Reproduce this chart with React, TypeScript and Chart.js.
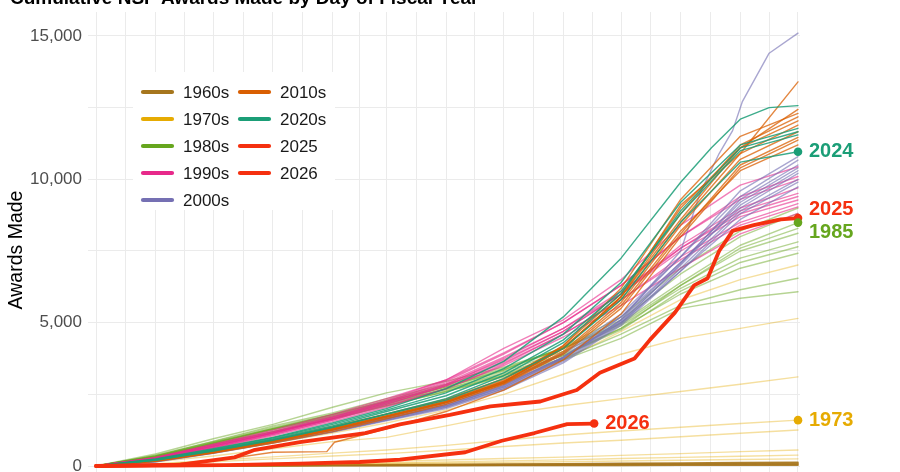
import React, { useEffect, useRef } from 'react';
import { Chart, registerables } from 'chart.js';

Chart.register(...registerables);

const FONT = '"Liberation Sans", Arial, Helvetica, sans-serif';

// ---------- sampling days (day of fiscal year, Oct 1 = 0) ----------
const monthDays = [0, 31, 61, 92, 123, 151, 182, 212, 243, 273, 304, 335, 365];
const days2009 = [0, 31, 61, 92, 123, 151, 182, 212, 243, 273, 304, 314, 324, 331, 336, 350, 365];
const days2014 = [0, 31, 61, 92, 120, 124, 151, 182, 212, 243, 273, 304, 335, 365];
const days2020 = [0, 31, 61, 92, 123, 151, 182, 212, 243, 273, 304, 320, 335, 350, 365];
const days2025 = [0, 44, 72, 82, 106, 140, 158, 184, 205, 231, 238, 250, 262, 280, 288, 301, 311, 318, 324, 331, 342, 356, 365];
const days2026 = [0, 68, 106, 137, 158, 192, 211, 228, 245, 259];

// ---------- cumulative awards per fiscal year ----------
const years1960s = [1966, 1967, 1968, 1969];
const awards1960s = [
  [0, 2, 4, 6, 8, 10, 12, 15, 18, 21, 24, 27, 30],
  [0, 4, 8, 13, 18, 22, 27, 32, 38, 44, 50, 55, 60],
  [0, 6, 12, 19, 26, 33, 41, 49, 57, 65, 73, 82, 90],
  [0, 8, 17, 27, 37, 47, 58, 69, 80, 92, 104, 117, 130],
];

const years1970s = [1970, 1971, 1972, 1973, 1974, 1975, 1976, 1977];
const awards1970s = [
  [0, 10, 25, 45, 65, 85, 105, 125, 150, 175, 200, 225, 250],
  [0, 15, 35, 60, 90, 115, 145, 180, 215, 260, 300, 340, 380],
  [0, 20, 50, 90, 130, 170, 210, 260, 310, 370, 430, 500, 560],
  [0, 80, 200, 320, 450, 560, 720, 900, 1080, 1220, 1350, 1480, 1600],
  [0, 60, 150, 250, 350, 430, 550, 680, 800, 900, 1020, 1140, 1255],
  [0, 150, 350, 600, 850, 1000, 1400, 1800, 2100, 2350, 2600, 2850, 3110],
  [0, 200, 480, 800, 1150, 1500, 1950, 2500, 3200, 3900, 4450, 4800, 5150],
  [0, 250, 600, 1000, 1400, 1800, 2300, 2900, 3700, 4700, 5800, 6500, 7010],
];

const years1980s = [1980, 1981, 1982, 1983, 1984, 1985, 1986, 1987, 1988, 1989];
const awards1980s = [
  [0, 300, 750, 1200, 1650, 2100, 2600, 3100, 3700, 4450, 5500, 5850, 6080],
  [0, 320, 780, 1250, 1700, 2150, 2650, 3150, 3750, 4600, 5600, 6150, 6550],
  [0, 350, 820, 1300, 1750, 2200, 2700, 3250, 3900, 4800, 6000, 6900, 7420],
  [0, 330, 800, 1280, 1720, 2180, 2680, 3200, 3850, 4750, 6100, 7100, 7650],
  [0, 380, 850, 1350, 1800, 2250, 2750, 3300, 4000, 4900, 6200, 7250, 7820],
  [0, 360, 870, 1400, 1850, 2350, 2850, 3400, 4100, 5000, 6400, 7700, 8490],
  [0, 420, 950, 1450, 2050, 2550, 2950, 3450, 4100, 4950, 6300, 7500, 8120],
  [0, 300, 760, 1200, 1650, 2100, 2600, 3150, 3850, 4800, 6300, 7600, 8290],
  [0, 340, 820, 1300, 1800, 2300, 2800, 3350, 4100, 5100, 6700, 8000, 8810],
  [0, 330, 800, 1300, 1780, 2250, 2750, 3350, 4150, 5200, 6900, 8200, 9000],
];

const years1990s = [1990, 1991, 1992, 1993, 1994, 1995, 1996, 1997, 1998, 1999];
const awards1990s = [
  [0, 250, 650, 1100, 1600, 2100, 2700, 3500, 4500, 5600, 6900, 8100, 8810],
  [0, 280, 700, 1150, 1650, 2150, 2800, 3600, 4600, 5800, 7200, 8400, 9040],
  [0, 300, 750, 1200, 1700, 2250, 2900, 3800, 4800, 6000, 7500, 8700, 9280],
  [0, 260, 680, 1150, 1650, 2200, 2850, 3700, 4700, 6000, 7600, 8900, 9510],
  [0, 300, 760, 1250, 1800, 2350, 3000, 3950, 5000, 6300, 8000, 9300, 9980],
  [0, 280, 720, 1200, 1750, 2300, 3000, 4100, 5100, 6500, 8400, 9800, 10440],
  [0, 240, 640, 1100, 1600, 2150, 2800, 3650, 4700, 6000, 7700, 9000, 9700],
  [0, 270, 700, 1150, 1650, 2200, 2850, 3750, 4800, 6100, 7600, 8800, 9400],
  [0, 230, 620, 1050, 1550, 2050, 2700, 3550, 4600, 5800, 7300, 8500, 9150],
  [0, 260, 680, 1150, 1700, 2250, 2950, 3900, 5000, 6300, 8000, 9400, 10100],
];

const years2000s = [2000, 2001, 2002, 2003, 2004, 2005, 2006, 2007, 2008, 2009];
const awards2000s = [
  [0, 200, 530, 900, 1300, 1700, 2150, 2800, 3800, 5000, 6800, 8600, 9740],
  [0, 180, 500, 860, 1250, 1650, 2100, 2750, 3750, 5100, 7100, 9000, 10210],
  [0, 200, 540, 920, 1330, 1750, 2250, 2950, 3950, 5300, 7300, 9400, 10670],
  [0, 170, 480, 850, 1250, 1650, 2100, 2800, 3800, 5200, 7300, 9600, 10790],
  [0, 190, 510, 880, 1290, 1700, 2200, 2900, 3900, 5200, 7100, 9200, 10400],
  [0, 160, 460, 820, 1200, 1600, 2050, 2700, 3650, 4950, 6900, 8900, 10000],
  [0, 150, 440, 800, 1180, 1580, 2000, 2650, 3600, 4900, 6800, 8800, 9900],
  [0, 170, 480, 850, 1250, 1650, 2100, 2750, 3750, 5050, 7000, 9100, 10300],
  [0, 150, 450, 820, 1200, 1600, 2050, 2700, 3700, 5000, 7050, 9300, 10500],
  [0, 160, 470, 850, 1250, 1650, 2150, 2850, 3800, 5100, 7500, 9500, 10900, 11700, 12700, 14400, 15100],
];

const years2010s = [2010, 2011, 2012, 2013, 2014, 2015, 2016, 2017, 2018, 2019];
const awards2010s = [
  [0, 200, 520, 880, 1300, 1750, 2250, 2950, 4100, 5900, 8600, 11100, 12440],
  [0, 180, 470, 840, 1250, 1700, 2200, 2900, 4200, 6200, 9300, 11500, 12300],
  [0, 190, 500, 860, 1280, 1730, 2230, 2930, 4100, 5900, 8800, 11200, 12180],
  [0, 160, 450, 800, 1200, 1650, 2150, 2850, 3900, 5500, 8100, 10500, 11460],
  [0, 40, 180, 480, 500, 830, 1300, 1900, 2650, 3700, 5300, 8000, 10400, 11370],
  [0, 200, 530, 900, 1340, 1800, 2300, 3000, 4200, 6000, 9000, 11100, 12040],
  [0, 210, 540, 920, 1360, 1820, 2330, 3050, 4150, 5800, 8500, 10900, 11890],
  [0, 190, 500, 870, 1300, 1750, 2250, 2950, 4100, 5900, 9100, 10900, 13400],
  [0, 170, 470, 840, 1260, 1720, 2220, 2900, 4000, 5700, 8400, 10700, 11660],
  [0, 180, 480, 850, 1270, 1720, 2200, 2880, 3950, 5600, 8200, 10300, 11200],
];

const years2020s = [2020, 2021, 2022, 2023, 2024];
const awards2020s = [
  [0, 250, 600, 1000, 1500, 2000, 2700, 3650, 5200, 7250, 9900, 11100, 12100, 12500, 12570],
  [0, 240, 580, 980, 1450, 1950, 2550, 3400, 4600, 6400, 9200, 11200, 11780],
  [0, 220, 560, 950, 1400, 1900, 2450, 3250, 4400, 6100, 8800, 11000, 11550],
  [0, 200, 520, 900, 1350, 1820, 2350, 3150, 4300, 6000, 8900, 11100, 11660],
  [0, 210, 530, 910, 1350, 1800, 2300, 3050, 4100, 5800, 8500, 10600, 10960],
];

const awards2025 = [0, 50, 300, 550, 830, 1150, 1450, 1780, 2080, 2250, 2400, 2650, 3250, 3750, 4400, 5350, 6300, 6550, 7500, 8200, 8400, 8600, 8650];
const awards2026 = [0, 30, 80, 140, 220, 480, 880, 1150, 1460, 1480];

// ---------- axes ----------
const xGridDays = [0, 15.5, 31, 46, 61, 76.5, 92, 107.5, 123, 137, 151, 166.5, 182, 197, 212, 227.5, 243, 258, 273, 288.5, 304, 319.5, 335, 350, 365];
const yTickValues = [0, 2500, 5000, 7500, 10000, 12500, 15000];
const yLabelStep = 5000;

// ---------- legend & labels ----------
const legendLabels = ['1960s', '1970s', '1980s', '1990s', '2000s', '2010s', '2020s', '2025', '2026'];
const decadeColors = ['#a6761d', '#e6ab02', '#66a61e', '#e7298a', '#7570b3', '#d95f02', '#1b9e77'];
const decadeAlphas = [0.9, 0.38, 0.48, 0.6, 0.62, 0.75, 0.85];
const currentColor = '#f5300f';
const legendColors = [...decadeColors, currentColor, currentColor];
const labeledYears = ['2024', '2025', '1985', '1973', '2026'];
const labeledOffsets = [0, -9, 10, 0, 0];

const TITLE = 'Cumulative NSF Awards Made by Day of Fiscal Year';

function rgba(hex: string, a: number) {
  const n = parseInt(hex.slice(1), 16);
  return `rgba(${n >> 16},${(n >> 8) & 255},${n & 255},${a})`;
}

function daysFor(year: number) {
  if (year === 2009) return days2009;
  if (year === 2014) return days2014;
  if (year === 2020) return days2020;
  return monthDays;
}

function makeSeries(label: string, days: number[], values: number[], color: string, width: number) {
  return {
    label,
    data: days.map((d, i) => ({ x: d, y: values[i] })),
    borderColor: color,
    backgroundColor: color,
    borderWidth: width,
    pointRadius: 0,
    tension: 0,
    fill: false,
    borderJoinStyle: 'round' as const,
    borderCapStyle: 'round' as const,
  };
}

function buildDatasets() {
  const decades: [number[], number[][]][] = [
    [years1960s, awards1960s],
    [years1970s, awards1970s],
    [years1980s, awards1980s],
    [years1990s, awards1990s],
    [years2000s, awards2000s],
    [years2010s, awards2010s],
    [years2020s, awards2020s],
  ];
  const out: any[] = [];
  out.push(makeSeries('2026', days2026, awards2026, currentColor, 3.8));
  out.push(makeSeries('2025', days2025, awards2025, currentColor, 3.8));
  for (let d = decades.length - 1; d >= 0; d--) {
    const [yrs, vals] = decades[d];
    const col = rgba(decadeColors[d], decadeAlphas[d]);
    for (let i = yrs.length - 1; i >= 0; i--) {
      out.push(makeSeries(String(yrs[i]), daysFor(yrs[i]), vals[i], col, d === 0 ? 1.6 : 1.4));
    }
  }
  return out;
}

const labelColorFor = (year: string) => {
  if (year === '2025' || year === '2026') return currentColor;
  const y = parseInt(year, 10);
  const idx = Math.floor((y - 1960) / 10);
  return decadeColors[Math.min(idx, 6)];
};

const overlayPlugin = {
  id: 'overlay',
  afterDatasetsDraw(chart: any) {
    const ctx = chart.ctx;
    ctx.save();
    labeledYears.forEach((yr, k) => {
      const idx = chart.data.datasets.findIndex((ds: any) => ds.label === yr);
      if (idx < 0) return;
      const meta = chart.getDatasetMeta(idx);
      const pt = meta.data[meta.data.length - 1];
      const color = labelColorFor(yr);
      ctx.fillStyle = color;
      ctx.beginPath();
      ctx.arc(pt.x, pt.y, 4.3, 0, Math.PI * 2);
      ctx.fill();
      ctx.font = `bold 20px ${FONT}`;
      ctx.textAlign = 'left';
      ctx.textBaseline = 'middle';
      ctx.fillText(yr, pt.x + 11, pt.y + labeledOffsets[k]);
    });
    ctx.restore();
  },
  afterDraw(chart: any) {
    const ctx = chart.ctx;
    const area = chart.chartArea;
    ctx.save();
    // title (mostly cropped at the top edge)
    ctx.fillStyle = '#000000';
    ctx.font = `bold 19px ${FONT}`;
    ctx.textAlign = 'left';
    ctx.textBaseline = 'alphabetic';
    ctx.fillText(TITLE, 10, 4);

    // y axis title
    ctx.save();
    ctx.translate(22, 250);
    ctx.rotate(-Math.PI / 2);
    ctx.font = `19.5px ${FONT}`;
    ctx.fillStyle = '#000000';
    ctx.textAlign = 'center';
    ctx.fillText('Awards Made', 0, 0);
    ctx.restore();

    // legend box
    const lx = area.left + 45;
    const ly = area.top + 60;
    ctx.fillStyle = '#ffffff';
    ctx.fillRect(lx, ly, 202, 138);
    ctx.font = `17px ${FONT}`;
    ctx.textBaseline = 'middle';
    ctx.textAlign = 'left';
    legendLabels.forEach((lab, i) => {
      const col = i < 5 ? 0 : 1;
      const row = i < 5 ? i : i - 5;
      const sx = lx + 8 + col * 97;
      const sy = ly + 20 + row * 27;
      ctx.strokeStyle = legendColors[i];
      ctx.lineWidth = 4.2;
      ctx.lineCap = 'round';
      ctx.beginPath();
      ctx.moveTo(sx + 2, sy);
      ctx.lineTo(sx + 31, sy);
      ctx.stroke();
      ctx.fillStyle = '#1a1a1a';
      ctx.fillText(lab, sx + 42, sy + 1);
    });
    ctx.restore();
  },
};

export default function App() {
  const canvasRef = useRef<HTMLCanvasElement | null>(null);

  useEffect(() => {
    if (!canvasRef.current) return;
    const chart = new Chart(canvasRef.current, {
      type: 'line',
      data: { datasets: buildDatasets() },
      options: {
        animation: false,
        responsive: false,
        devicePixelRatio: 1,
        layout: { padding: { top: 12, right: 100, bottom: 0, left: 0 } },
        plugins: {
          legend: { display: false },
          tooltip: { enabled: false },
          title: { display: false },
        },
        scales: {
          x: {
            type: 'linear',
            min: -4.16,
            max: 366.04,
            ticks: { display: false },
            grid: { color: '#ebebeb', lineWidth: 1, drawTicks: false },
            border: { display: false },
            afterBuildTicks: (axis: any) => {
              axis.ticks = xGridDays.map((v) => ({ value: v }));
            },
            afterFit: (axis: any) => {
              axis.height = 0;
              axis.paddingLeft = 0;
              axis.paddingRight = 0;
              axis.paddingTop = 0;
              axis.paddingBottom = 0;
            },
          },
          y: {
            type: 'linear',
            min: -209.3,
            max: 15837.2,
            ticks: {
              autoSkip: false,
              color: '#4d4d4d',
              padding: 6,
              font: { family: FONT, size: 17 },
              callback: (v: any) => (Number(v) % yLabelStep === 0 ? Number(v).toLocaleString('en-US') : ''),
            },
            grid: { color: '#ebebeb', lineWidth: 1, drawTicks: false },
            border: { display: false },
            afterBuildTicks: (axis: any) => {
              axis.ticks = yTickValues.map((v) => ({ value: v }));
            },
            afterFit: (axis: any) => {
              axis.width = 88;
              axis.paddingTop = 0;
              axis.paddingBottom = 0;
            },
          },
        },
      } as any,
      plugins: [overlayPlugin],
    });
    return () => chart.destroy();
  }, []);

  return (
    <div style={{ position: 'fixed', left: 0, top: 0, width: 900, height: 472, background: '#ffffff', overflow: 'hidden' }}>
      <canvas ref={canvasRef} width={900} height={472} style={{ display: 'block', width: 900, height: 472 }} />
    </div>
  );
}
